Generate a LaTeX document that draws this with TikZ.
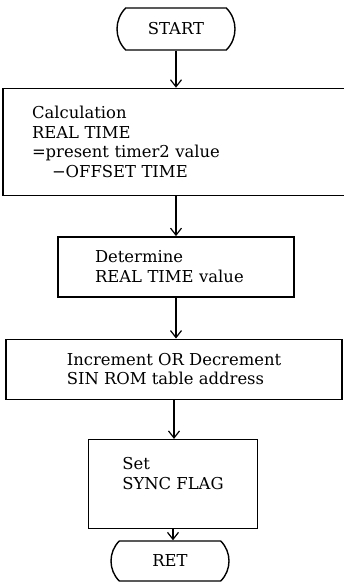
\documentclass[tikz,border=0pt]{standalone}
\usepackage{fontspec}
\setmainfont{DejaVu Serif}
\usetikzlibrary{positioning,shapes.misc,arrows.meta}

\tikzset{
  flowbox/.style={draw, line width=1.4pt, font=\fontsize{16.4}{19.5}\selectfont, inner sep=0pt},
  term/.style={flowbox, rounded rectangle, rounded rectangle arc length=90, minimum width=118pt, minimum height=42pt},
}

\begin{document}
\begin{tikzpicture}[x=1pt, y=-1pt, >={Straight Barb[length=7pt,width=11pt]}, node distance=37pt]
            \useasboundingbox (0,0) rectangle (343,586);

            \node [term] (start) at (176,29) {START};
            \node [flowbox, below=of start, minimum height=107pt, text width=288pt, inner xsep=29pt, align=left] (calc)
                {Calculation\\REAL TIME\\=present timer2 value\\\hspace*{20pt}−OFFSET TIME};
            \node [flowbox, below=40pt of calc, minimum height=60pt, text width=162pt, inner xsep=37pt, align=left] (rtval)
                {Determine\\REAL TIME value};
            \node [flowbox, below=41pt of rtval, xshift=-2pt, minimum width=336pt, minimum height=60pt, align=left] (rom)
                {Increment OR Decrement\\SIN ROM table address};
            \node [flowbox, below=39pt of rom, xshift=-1pt, minimum width=169pt, minimum height=89pt, text depth=21pt, align=left] (sync)
                {Set\\SYNC FLAG};
            \node [term, below=11pt of sync, xshift=-3pt, minimum height=40pt] (ret) {RET};

            \draw [->, line width=1.2pt] (start.south) -- (start.south |- calc.north);
            \draw [->, line width=1.2pt] (calc.south) -- (calc.south |- rtval.north);
            \draw [->, line width=1.2pt] (rtval.south) -- (rtval.south |- rom.north);
            \draw [->, line width=1.2pt] (rom.south) -- (rom.south |- sync.north);
            \draw [->, line width=1.2pt] (sync.south) -- (sync.south |- ret.north);
        \end{tikzpicture}
\end{document}
